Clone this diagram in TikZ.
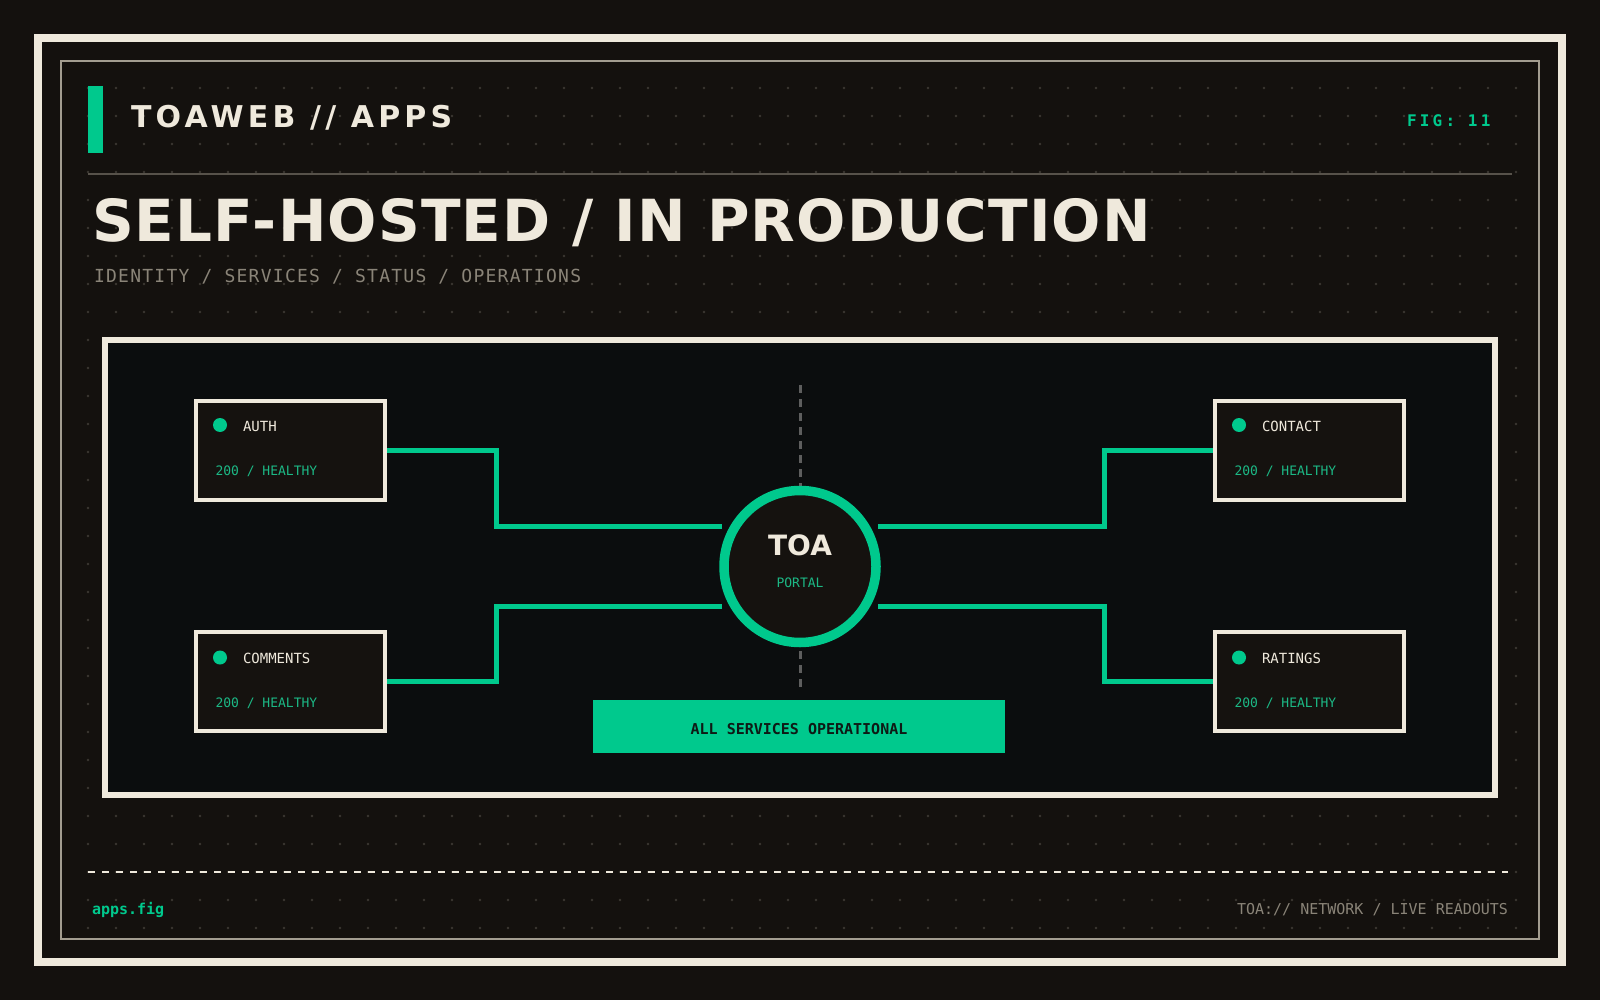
\documentclass[tikz,border=0pt]{standalone}
\usepackage{fontspec}
\setmainfont{DejaVu Sans}
\newfontfamily\monof{DejaVu Sans Mono}
\newfontfamily\headf{DejaVu Sans}[LetterSpace=14]
\newfontfamily\titlef{DejaVu Sans}[LetterSpace=2]
\newfontfamily\subf{DejaVu Sans Mono}[LetterSpace=7]
\newfontfamily\figf{DejaVu Sans Mono}[LetterSpace=20]
\usetikzlibrary{calc}
\definecolor{bgc}{HTML}{14110E}
\definecolor{creamc}{HTML}{EFE9DC}
\definecolor{framec}{HTML}{A39D90}
\definecolor{rulec}{HTML}{57524A}
\definecolor{panelc}{HTML}{0B0D0E}
\definecolor{boxc}{HTML}{15120F}
\definecolor{greenc}{HTML}{00C98D}
\definecolor{greentc}{HTML}{1CB885}
\definecolor{grayt}{HTML}{8A8478}
\definecolor{vdash}{HTML}{5E5E5E}
\definecolor{dotc}{HTML}{3B3732}
\definecolor{darkt}{HTML}{0E1A15}
\pgfdeclarelayer{back}
\pgfdeclarelayer{mid}
\pgfsetlayers{back,mid,main}
\tikzset{
  txt/.style={inner sep=0pt, outer sep=0pt},
  svc/.style={draw=creamc, line width=4pt, fill=boxc, minimum width=189pt, minimum height=99pt, inner sep=0pt},
  conn/.style={draw=greenc, line width=5pt},
  svcname/.style={txt, anchor=base west, text=creamc, font=\monof\fontsize{14}{16}\selectfont},
  svcstat/.style={txt, anchor=base west, text=greentc, font=\monof\fontsize{13}{15}\selectfont},
}
\begin{document}
\begin{tikzpicture}[x=1pt,y=-1pt]
\begin{pgfonlayer}{back}
\fill[bgc] (0,0) rectangle (1600,1000);
\useasboundingbox (0,0) rectangle (1600,1000);
\foreach \i in {0,...,51}{
  \foreach \j in {0,...,30}{
    \fill[dotc] ({88+28*\i},{88+28*\j}) circle[radius=1.3pt];
  }
}
\draw[creamc, line width=8pt] (38,38) rectangle (1562,962);
\draw[framec, line width=2pt] (61,61) rectangle (1539,939);
\draw[rulec, line width=2pt] (88,174.5) -- (1512,174.5);
\draw[creamc, line width=6pt, fill=panelc] (105,340) rectangle (1495,794.5);
\end{pgfonlayer}

% header
\node[txt, fill=greenc, minimum width=15pt, minimum height=67pt] (hbar) at (95.5,119.5) {};
\node[txt, anchor=base west, text=creamc, font=\headf\bfseries\fontsize{30}{36}\selectfont] (head) at (131,128) {TOAWEB // APPS};
\node[txt, anchor=base west, text=greenc, font=\figf\bfseries\fontsize{16}{18}\selectfont] (fig) at (1407,127) {FIG: 11};
\node[txt, anchor=base west, text=creamc, font=\titlef\bfseries\fontsize{58}{64}\selectfont] (title) at (92,242) {SELF-HOSTED / IN PRODUCTION};
\node[txt, anchor=base west, text=grayt, font=\subf\fontsize{18}{20}\selectfont] (sub) at (94,283) {IDENTITY / SERVICES / STATUS / OPERATIONS};

% centre
\coordinate (vt) at (800,385);
\coordinate (vb) at (800,692);
\begin{pgfonlayer}{mid}
\draw[vdash, line width=3pt, dash pattern=on 8pt off 6pt] (vt) -- (vb);
\end{pgfonlayer}
\node[circle, draw=greenc, line width=9.5pt, fill=boxc, minimum size=152pt, inner sep=0pt] (toa) at (800,566.5) {};
\node[txt, anchor=base, text=creamc, font=\bfseries\fontsize{28}{32}\selectfont] (toat) at (800,555) {TOA};
\node[txt, anchor=base, text=greentc, font=\monof\fontsize{13}{15}\selectfont] (portal) at (800,587) {PORTAL};

% services
\foreach \n/\t/\x/\y/\d in {auth/AUTH/290.5/450.5/0, contact/CONTACT/1309.5/450.5/0, comments/COMMENTS/290.5/681/2, ratings/RATINGS/1309.5/681/2}{
  \node[svc] (\n) at (\x,\y) {};
  \fill[greenc] ($(\n.north west)+(26,26+\d)$) circle[radius=7pt];
  \node[svcname] (\n-name) at ($(\n.north west)+(49,32+\d)$) {\t};
  \node[svcstat] (\n-stat) at ($(\n.north west)+(21.5,76+\d)$) {200 / HEALTHY};
}

\coordinate (cl1) at (722,526);
\coordinate (cl2) at (722,606);
\coordinate (cr1) at (878,526);
\coordinate (cr2) at (878,606);
\begin{pgfonlayer}{mid}
\draw[conn] (auth.east) -- ++(109,0) |- (cl1);
\draw[conn] (comments.east) -- ++(109,0) |- (cl2);
\draw[conn] (contact.west) -- ++(-109,0) |- (cr1);
\draw[conn] (ratings.west) -- ++(-109,0) |- (cr2);
\end{pgfonlayer}

% status bar
\node[txt, fill=greenc, minimum width=412pt, minimum height=53pt] (status) at (799,726.5) {};
\node[txt, anchor=base, text=darkt, font=\monof\bfseries\fontsize{15}{17}\selectfont] (statust) at (799,734) {ALL SERVICES OPERATIONAL};

% footer
\coordinate (fl) at (88,872);
\coordinate (fr) at (1508,872);
\draw[creamc, line width=2pt, dash pattern=on 7pt off 7pt] (fl) -- (fr);
\node[txt, anchor=base west, text=greenc, font=\monof\bfseries\fontsize{15}{17}\selectfont] (appsfig) at (92,914) {apps.fig};
\node[txt, anchor=base east, text=grayt, font=\monof\fontsize{15}{17}\selectfont] (foot) at (1508,914) {TOA:// NETWORK / LIVE READOUTS};
\end{tikzpicture}
\end{document}
